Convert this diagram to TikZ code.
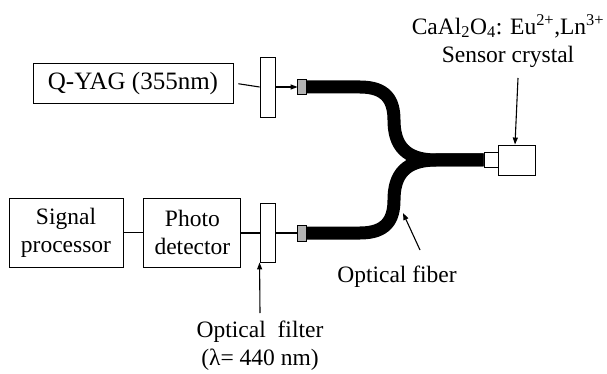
\documentclass[tikz,border=0pt]{standalone}
\usepackage{fontspec}
\setmainfont{Liberation Serif}
\usetikzlibrary{positioning,arrows.meta}

\begin{document}
\begin{tikzpicture}[x=1pt, y=-1pt,
  font=\fontsize{23.5}{28}\selectfont,
  box/.style={draw, line width=0.9pt, align=center, inner sep=0pt},
  filt/.style={box, minimum width=15pt, minimum height=60pt},
  conn/.style={draw, line width=0.8pt, fill=gray!60, minimum width=8pt, minimum height=15pt, inner sep=0pt},
  ln/.style={line width=1.1pt},
  arr/.style={line width=1.1pt, -{Triangle[length=7pt, width=5pt]}},
  fib/.style={line width=13pt}]
\useasboundingbox (0,0) rectangle (607,374);
% source and detection boxes
\node[box, minimum width=200pt, minimum height=40pt, font=\fontsize{25}{28}\selectfont] (yag) at (133,83) {Q-YAG (355nm)};
\node[box, minimum width=114pt, minimum height=69pt] (sig) at (66,232.5) {Signal\\processor};
\node[box, minimum width=97pt, minimum height=69pt, right=20pt of sig] (det) {Photo\\detector};
% filters and fiber connectors
\node[filt] (topf) at (267.5,87) {};
\node[filt, minimum height=59pt] (botf) at (267.5,232.5) {};
\node[conn] (topc) at (302,87) {};
\node[conn] (botc) at (302,233) {};
\node[box, minimum width=14pt, minimum height=15pt] (tip) at (491,160) {};
\node[box, minimum width=37pt, minimum height=30pt, right=0pt of tip] (xtal) {};
% labels
\node (xlab) at (508,26) {CaAl\textsubscript{2}O\textsubscript{4}: Eu\textsuperscript{2+},Ln\textsuperscript{3+}};
\node (slab) at (508,57) {Sensor crystal};
\node (flab) at (397,277) {Optical fiber};
\node[align=center] (olab) at (260,346) {Optical\ \ filter\\(λ= 440 nm)};
% light path
\draw[ln, shorten <=5pt] (yag.east) -- (topf.west);
\draw[arr] (topf.east) -- (topc.west);
\draw[ln] (sig.east) -- (sig.east -| det.west);
\draw[ln] (botf.west |- botc) -- (det.east |- botc);
\draw[ln] (botf.east |- botc) -- (botc.west);
% fiber coupler
\draw[fib] (topc.east) -- (360,87) .. controls (386,87) and (394,100) .. (394,120)
  .. controls (394,145) and (405,160) .. (436,160) -- (tip.west);
\draw[fib] (botc.east) -- (360,233) .. controls (386,233) and (394,220) .. (394,200)
  .. controls (394,175) and (405,160) .. (436,160) -- (tip.west);
\draw[fill=gray!60, line width=0.8pt] (topc.south west) rectangle (topc.north east);
\draw[fill=gray!60, line width=0.8pt] (botc.south west) rectangle (botc.north east);
% pointers
\coordinate (xa) at (518,78);
\draw[arr] (xa) -- (xtal.north -| 515,0);
\coordinate (fa) at (420,250);
\draw[arr] (fa) -- (403,213);
\coordinate (oa) at (260,313);
\draw[arr] (oa) -- (botf.south west);
\end{tikzpicture}
\end{document}
